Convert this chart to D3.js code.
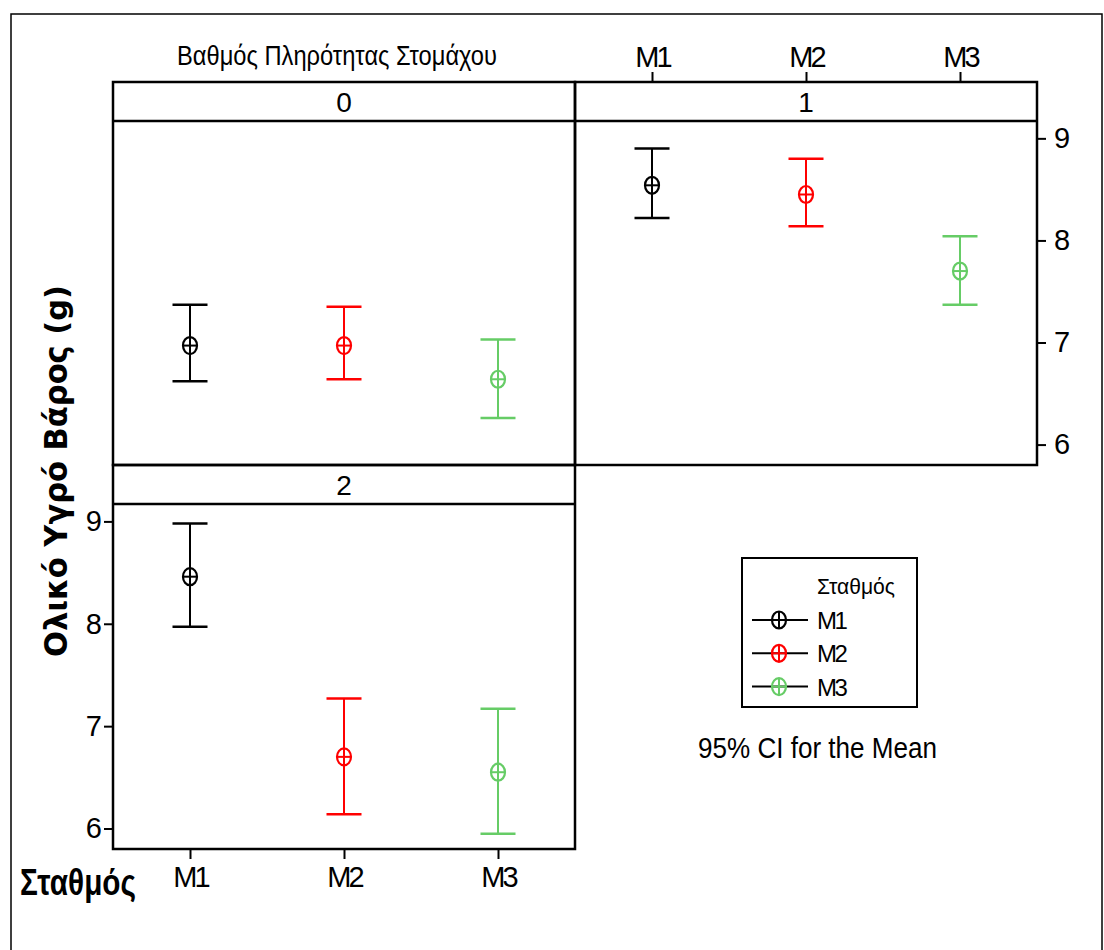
<!DOCTYPE html>
<html>
<head>
<meta charset="utf-8">
<script src="https://cdn.jsdelivr.net/npm/d3@7"></script>
<style>
  body { margin: 0; background: #fff; }
  text { font-family: "Liberation Sans", Arial, sans-serif; fill: #000; }
</style>
</head>
<body>
<script>
// data
const panelLabels = ["0", "1", "2"];
const stationNames = ["M1", "M2", "M3"];
const stationColors = ["#000000", "#ff0000", "#66cc66"];
const meanValues = [[6.97, 6.97, 6.64], [8.54, 8.45, 7.70], [8.46, 6.70, 6.55]];
const lowerCI = [[6.62, 6.64, 6.26], [8.22, 8.14, 7.37], [7.97, 6.14, 5.95]];
const upperCI = [[7.37, 7.35, 7.03], [8.90, 8.80, 8.04], [8.98, 7.27, 7.17]];
const yTicks = [6, 7, 8, 9];

const width = 1104, height = 950;
const panelW = 462, stripH = 39;

// panel boxes: left, top of strip, bottom of plot
const panelBox = [
    { x: 113, top: 82, bottom: 465 },
    { x: 575, top: 82, bottom: 465 },
    { x: 113, top: 465, bottom: 849 }
];

var svg = d3.select("body").append("svg")
    .attr("width", width)
    .attr("height", height);

// outer frame
svg.append("rect")
    .attr("x", 11).attr("y", 14)
    .attr("width", 1091).attr("height", 960)
    .attr("fill", "none").attr("stroke", "#000").attr("stroke-width", 1.5);

var xScale = d3.scalePoint().domain(stationNames).range([0, panelW]).padding(0.5);

function drawMarker(g, cx, cy, color) {
    g.append("ellipse")
        .attr("cx", cx).attr("cy", cy)
        .attr("rx", 7).attr("ry", 8.5)
        .attr("fill", "none").attr("stroke", color).attr("stroke-width", 2.2);
    g.append("line")
        .attr("x1", cx - 7).attr("x2", cx + 7)
        .attr("y1", cy).attr("y2", cy)
        .attr("stroke", color).attr("stroke-width", 2);
    g.append("line")
        .attr("x1", cx).attr("x2", cx)
        .attr("y1", cy - 8.5).attr("y2", cy + 8.5)
        .attr("stroke", color).attr("stroke-width", 2);
}

panelLabels.forEach(function(label, p) {
    var box = panelBox[p];
    var plotTop = box.top + stripH;
    var yScale = d3.scaleLinear().domain([5.8, 9.17]).range([box.bottom, plotTop]);
    var g = svg.append("g").attr("transform", "translate(" + box.x + ",0)");

    // error bars
    stationNames.forEach(function(st, i) {
        var cx = xScale(st);
        var col = stationColors[i];
        var yLo = yScale(lowerCI[p][i]), yHi = yScale(upperCI[p][i]);
        g.append("line")
            .attr("x1", cx).attr("x2", cx).attr("y1", yLo).attr("y2", yHi)
            .attr("stroke", col).attr("stroke-width", 2);
        [yLo, yHi].forEach(function(yy) {
            g.append("line")
                .attr("x1", cx - 17.5).attr("x2", cx + 17.5).attr("y1", yy).attr("y2", yy)
                .attr("stroke", col).attr("stroke-width", 2.5);
        });
        drawMarker(g, cx, yScale(meanValues[p][i]), col);
    });

    // strip + frame
    g.append("rect")
        .attr("x", 0).attr("y", box.top)
        .attr("width", panelW).attr("height", box.bottom - box.top)
        .attr("fill", "none").attr("stroke", "#000").attr("stroke-width", 2.5);
    g.append("line")
        .attr("x1", 0).attr("x2", panelW).attr("y1", plotTop).attr("y2", plotTop)
        .attr("stroke", "#000").attr("stroke-width", 2.5);
    g.append("text")
        .attr("x", panelW / 2).attr("y", box.top + stripH / 2 + 10)
        .attr("text-anchor", "middle")
        .style("font-size", "28px")
        .text(label);

    // axes
    if (p == 1) {
        var ax = g.append("g").attr("transform", "translate(" + panelW + ",0)")
            .call(d3.axisRight(yScale).tickValues(yTicks).tickSize(9).tickPadding(8).tickFormat(d3.format("d")));
        styleAxis(ax);
        var xa = g.append("g").attr("transform", "translate(0," + box.top + ")")
            .call(d3.axisTop(xScale).tickSize(10).tickPadding(5));
        styleAxis(xa);
    }
    if (p == 2) {
        var ay = g.append("g")
            .call(d3.axisLeft(yScale).tickValues(yTicks).tickSize(9).tickPadding(5).tickFormat(d3.format("d")));
        styleAxis(ay);
        var xb = g.append("g").attr("transform", "translate(0," + box.bottom + ")")
            .call(d3.axisBottom(xScale).tickSize(10).tickPadding(7));
        styleAxis(xb);
    }
});

function styleAxis(a) {
    a.select(".domain").remove();
    a.selectAll(".tick line").attr("stroke", "#000").attr("stroke-width", 2);
    a.selectAll(".tick text")
        .style("font-family", "'Liberation Sans', Arial, sans-serif")
        .style("font-size", "29px")
        .style("letter-spacing", "-3px")
        .attr("fill", "#000");
}

// facet title
svg.append("text")
    .attr("x", 177).attr("y", 65)
    .attr("textLength", 320).attr("lengthAdjust", "spacingAndGlyphs")
    .style("font-size", "27px")
    .text("Βαθμός Πληρότητας Στομάχου");

// y axis title
svg.append("text")
    .attr("transform", "translate(67,471) rotate(-90)")
    .attr("text-anchor", "middle")
    .attr("textLength", 372).attr("lengthAdjust", "spacingAndGlyphs")
    .style("font-family", "'DejaVu Sans', Verdana, sans-serif")
    .style("font-weight", "bold")
    .style("font-size", "31px")
    .text("Ολικό Υγρό Βάρος (g)");

// x axis title
svg.append("text")
    .attr("x", 20).attr("y", 895)
    .attr("textLength", 116).attr("lengthAdjust", "spacingAndGlyphs")
    .style("font-weight", "bold")
    .style("font-size", "37px")
    .text("Σταθμός");

// legend
var legend = svg.append("g");
legend.append("rect")
    .attr("x", 742).attr("y", 558)
    .attr("width", 175).attr("height", 149)
    .attr("fill", "none").attr("stroke", "#000").attr("stroke-width", 2);
legend.append("text")
    .attr("x", 817).attr("y", 594)
    .attr("textLength", 78).attr("lengthAdjust", "spacingAndGlyphs")
    .style("font-size", "22px")
    .text("Σταθμός");
stationNames.forEach(function(st, i) {
    var ly = 620 + i * 33.3;
    legend.append("line")
        .attr("x1", 752).attr("x2", 808).attr("y1", ly).attr("y2", ly)
        .attr("stroke", "#000").attr("stroke-width", 2);
    drawMarker(legend, 779, ly, stationColors[i]);
    legend.append("text")
        .attr("x", 817).attr("y", ly + 9)
        .style("font-size", "24px")
        .style("letter-spacing", "-2.5px")
        .text(st);
});

svg.append("text")
    .attr("x", 698).attr("y", 758)
    .attr("textLength", 239).attr("lengthAdjust", "spacingAndGlyphs")
    .style("font-size", "29px")
    .text("95% CI for the Mean");
</script>
</body>
</html>
